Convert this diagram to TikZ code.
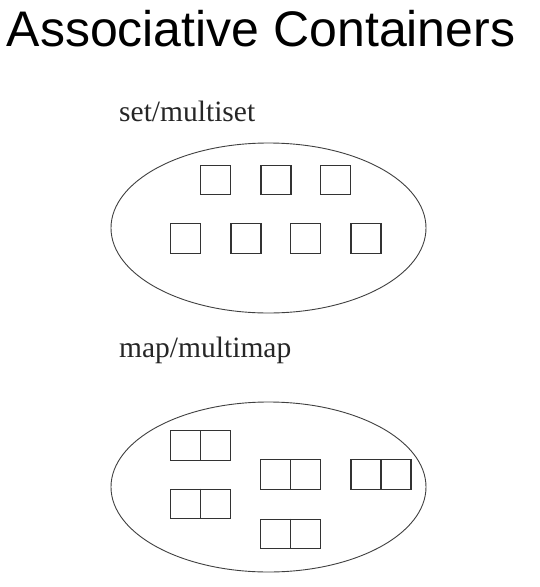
\documentclass[tikz,border=0pt]{standalone}
\usepackage{fontspec}
\setmainfont{Liberation Serif}
\newfontfamily\titlefont{Liberation Sans}
\usetikzlibrary{shapes.geometric}
\begin{document}
\begin{tikzpicture}[x=1pt,y=-1pt,
  titletext/.style={inner sep=0pt,anchor=base,font=\titlefont\fontsize{50}{60}\selectfont},
  labeltext/.style={inner sep=0pt,anchor=base west,font=\fontsize{29.5}{34}\selectfont,text=black!85},
  container/.style={draw=black!75,line width=0.9pt,ellipse,inner sep=0pt,minimum width=315pt,minimum height=170pt},
  cell/.style={draw=black!80,line width=1.2pt,inner sep=0pt,minimum width=30pt,minimum height=29.5pt},
  paircell/.style={draw=black!80,line width=1.2pt,inner sep=0pt,minimum width=60pt,minimum height=29.5pt}]
\useasboundingbox[fill=white] (0,0) rectangle (540,587);
\node[titletext] (title) at (261,46) {Associative Containers};
\node[labeltext] (setlabel) at (119,121) {set/multiset};
\node[container] (setell) at (268.5,228) {};
% set elements
\node[cell] (s1) at (215.5,180) {};
\node[cell] (s2) at (276,180) {};
\node[cell] (s3) at (335.5,180) {};
\node[cell] (s4) at (185.5,238.5) {};
\node[cell] (s5) at (246,238.5) {};
\node[cell] (s6) at (305.5,238.5) {};
\node[cell] (s7) at (366,238.5) {};
\node[labeltext] (maplabel) at (119,357) {map/multimap};
\node[container] (mapell) at (268.5,487) {};
% map elements
\foreach \n/\x/\y in {p1/200.5/445.5, p2/200.5/504, p3/290.5/474.5, p4/381/474.5, p5/290.5/534}{
  \node[paircell] (\n) at (\x,\y) {};
  \draw[draw=black!80,line width=1.2pt] (\n.north) -- (\n.south);
}
\end{tikzpicture}
\end{document}
